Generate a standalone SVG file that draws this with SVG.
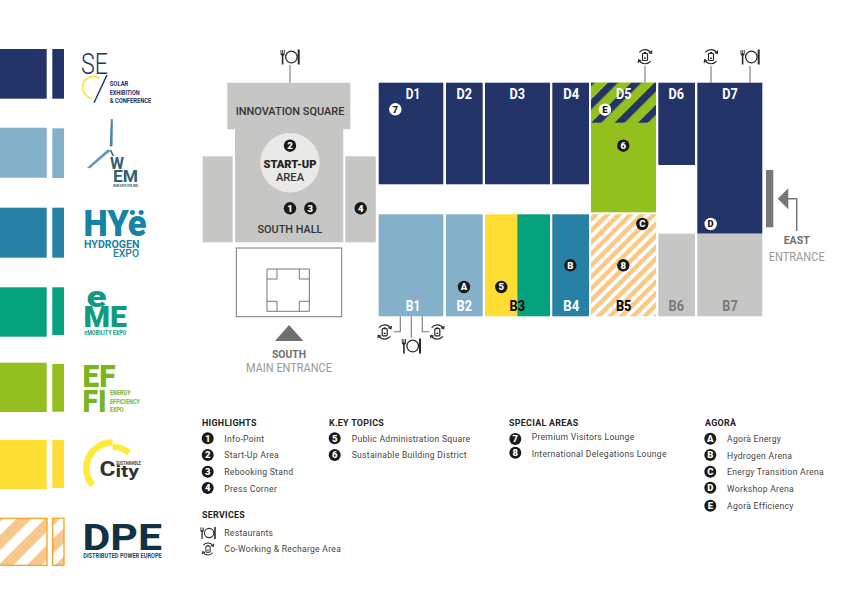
<svg xmlns="http://www.w3.org/2000/svg" width="862" height="615" viewBox="0 0 862 615">
<style>
text{font-family:"Roboto","Liberation Sans",sans-serif}
.navy{fill:#233568}.sky{fill:#85b0ca}.teal{fill:#2681a4}.em{fill:#06a27e}.lime{fill:#93c01f}.yel{fill:#ffde33}.gry{fill:#c6c6c5}
.hl{font-size:14.5px;font-weight:700;text-anchor:middle;fill:#fff}
.hk{font-size:14.5px;font-weight:700;text-anchor:middle;fill:#000}
.hg{font-size:14.5px;font-weight:700;text-anchor:middle;fill:#7a7a7a}
.mp{font-size:11.8px;font-weight:500;text-anchor:middle;fill:#333}
.mb{font-size:11.8px;font-weight:900;text-anchor:middle;fill:#222}
.eb{font-size:11.5px;font-weight:700;text-anchor:middle;fill:#6f6f6f}
.el{font-size:12px;text-anchor:middle;fill:#999}
.lh{font-size:8.9px;font-weight:700;fill:#222;letter-spacing:.3px}
.lt{font-size:8.6px;fill:#444;letter-spacing:.28px}
.bk{fill:#1a1a1a}.wh{fill:#fff}
.bt{font-size:9.5px;font-weight:900;text-anchor:middle;fill:#fff}
.bw{font-size:9.5px;font-weight:900;text-anchor:middle;fill:#1a1a1a}
.conn{fill:none;stroke:#777;stroke-width:1.1}
.icn{fill:none;stroke:#2a2a2a;stroke-width:1.2}
.lg{font-weight:700}.lx{font-weight:900}
</style>
<defs>
<pattern id="o1" width="8.2" height="8.2" patternUnits="userSpaceOnUse" patternTransform="rotate(45) translate(4.9 0)"><rect width="8.2" height="8.2" fill="#fff"/><rect width="4.6" height="8.2" fill="#f9c985"/></pattern>
<pattern id="o2" width="20" height="20" patternUnits="userSpaceOnUse" patternTransform="rotate(45) translate(18.5 0)"><rect width="20" height="20" fill="#fff"/><rect width="10.5" height="20" fill="#f7c88c"/></pattern>
<pattern id="n1" width="16.5" height="16.5" patternUnits="userSpaceOnUse" patternTransform="rotate(45) translate(9.9 0)"><rect width="16.5" height="16.5" fill="#93c01f"/><rect width="7.1" height="16.5" fill="#233568"/></pattern>
<g id="rest"><path d="M-9.5-7v3.6q0 2 1.3 2.2v8.7h1.6v-8.7q1.3-.2 1.3-2.2V-7h-.9v3.5h-.8V-7h-.8v3.5h-.8V-7z" fill="#2a2a2a"/><circle cx="1.4" cy="0" r="5.8" fill="none" stroke="#2a2a2a" stroke-width="1.3"/><path d="M8.7-7.5v15" fill="none" stroke="#2a2a2a" stroke-width="2"/></g>
<g id="cowk"><path d="M-5.6-4.4A7.2 7.2 0 0 1 6-3.8M5.6 4.4A7.2 7.2 0 0 1-6 3.8" class="icn"/><path d="M6.8-6.2L6.3-3.2 3.6-4.2M-6.8 6.2L-6.3 3.2-3.6 4.2" class="icn" stroke-width="1"/><rect x="-2.5" y="-3.4" width="5" height="7.2" rx=".9" class="icn"/><path d="M-1-4.2h2M-1 1.4h2" class="icn"/></g>
</defs>

<g id="legend-swatches">
<rect class="navy" x="0" y="49" width="46.7" height="49.7"/><rect class="navy" x="52.3" y="49" width="11.7" height="49.7"/>
<rect class="sky" x="0" y="127.7" width="46.7" height="50"/><rect class="sky" x="52.3" y="128.3" width="11.7" height="49.7"/>
<rect class="teal" x="0" y="207.7" width="46.7" height="50"/><rect class="teal" x="52.3" y="207.7" width="11.7" height="50"/>
<rect class="em" x="0" y="287.3" width="46.7" height="49.4"/><rect class="em" x="52.3" y="287.3" width="11.7" height="47.7"/>
<rect class="lime" x="0" y="362.7" width="46.7" height="49.3"/><rect class="lime" x="52.3" y="364" width="11.7" height="47.7"/>
<rect class="yel" x="0" y="440" width="46.7" height="49.3"/><rect class="yel" x="52.3" y="440" width="11.7" height="48"/>
<rect x="-2" y="518.3" width="49" height="47" fill="url(#o2)" stroke="#f5a623" stroke-width="1.3"/><rect x="52.6" y="518.3" width="11.4" height="47" fill="url(#o2)" stroke="#f5a623" stroke-width="1.3"/>
</g>

<g id="logo-sec">
<text x="81" y="74" font-size="29" fill="#233568" textLength="27" lengthAdjust="spacingAndGlyphs" style="font-weight:300">SE</text>
<path d="M99.5 78A11 11 0 1 0 92.7 98.3" fill="none" stroke="#ffde33" stroke-width="1.6"/>
<path d="M107 75L94 102.7" stroke="#233568" stroke-width="1.5"/>
<g class="lg" font-size="8" fill="#233568"><text x="109.7" y="86" textLength="18.7" lengthAdjust="spacingAndGlyphs">SOLAR</text><text x="109.7" y="94.5" textLength="30" lengthAdjust="spacingAndGlyphs">EXHIBITION</text><text x="109.7" y="102.8" textLength="41.7" lengthAdjust="spacingAndGlyphs">&amp; CONFERENCE</text></g>
</g>
<g id="logo-wem">
<path d="M111.3 119.5L112.3 119.5 112 146 110.2 146Z" fill="#4f87a0" stroke="#4f87a0"/>
<path d="M87.5 167.5L108 149.5 110 151 90 168Z" fill="#5f97b0" stroke="#5f97b0" stroke-width=".5"/>
<path d="M110.5 150L113.3 156" stroke="#33606f" stroke-width="1.5"/>
<text x="110" y="168.5" font-size="17" fill="#33606f" class="lg" textLength="14" lengthAdjust="spacingAndGlyphs">W</text>
<text x="113" y="182" font-size="16" fill="#33606f" class="lg" textLength="25" lengthAdjust="spacingAndGlyphs">EM</text>
<text x="113" y="186.5" font-size="3.2" fill="#33606f" class="lg" textLength="25" lengthAdjust="spacingAndGlyphs">WIND EXPO FOR MED</text>
</g>
<g id="logo-hye">
<text x="83.5" y="236" font-size="36" fill="#1583a3" class="lx" textLength="63" lengthAdjust="spacingAndGlyphs">HYë</text>
<text x="84" y="248" font-size="10" fill="#1583a3" class="lg" textLength="55.5" lengthAdjust="spacingAndGlyphs">HYDROGEN</text>
<text x="113" y="257" font-size="10" fill="#1583a3" style="font-weight:500" textLength="26" lengthAdjust="spacingAndGlyphs">EXPO</text>
</g>
<g id="logo-eme">
<text x="86.5" y="307" font-size="29" fill="#0f9b7c" class="lx" textLength="20" lengthAdjust="spacingAndGlyphs">e</text>
<text x="83.5" y="327" font-size="29" fill="#0f9b7c" class="lx" textLength="43.5" lengthAdjust="spacingAndGlyphs">ME</text>
<text x="84.3" y="335" font-size="7.5" fill="#0f9b7c" class="lg" textLength="42" lengthAdjust="spacingAndGlyphs">eMOBILITY EXPO</text>
</g>
<g id="logo-effi">
<text x="82.5" y="387" font-size="31.5" fill="#7ab51d" class="lx" textLength="33" lengthAdjust="spacingAndGlyphs">EF</text>
<text x="82.5" y="412" font-size="31.5" fill="#7ab51d" class="lx" textLength="24" lengthAdjust="spacingAndGlyphs">FI</text>
<g font-size="8" fill="#7ab51d" class="lg"><text x="110" y="395.2" textLength="20.5" lengthAdjust="spacingAndGlyphs">ENERGY</text><text x="110" y="403.5" textLength="30" lengthAdjust="spacingAndGlyphs">EFFICIENCY</text><text x="110" y="411.8" textLength="13.5" lengthAdjust="spacingAndGlyphs">EXPO</text></g>
</g>
<g id="logo-city">
<path d="M92.6 485A25.7 25.7 0 0 1 112.5 442.5" fill="none" stroke="#ffea3a" stroke-width="6.5"/>
<path d="M112.5 447A22 22 0 0 1 129 453" fill="none" stroke="#ffea3a" stroke-width="6"/>
<text x="116" y="465" font-size="4.6" fill="#444" class="lg" textLength="25" lengthAdjust="spacingAndGlyphs">SUSTAINABLE</text>
<text transform="translate(99.5 476) scale(1.25 1)" font-size="19.5" fill="#333" class="lg">C<tspan font-size="17" dy="1">ity</tspan></text>
</g>
<g id="logo-dpe">
<text x="82.5" y="549.5" font-size="36" fill="#0f3244" class="lg" textLength="79.5" lengthAdjust="spacingAndGlyphs">DPE</text>
<text x="83.3" y="558" font-size="6.6" fill="#2f4858" class="lg" textLength="78.5" lengthAdjust="spacingAndGlyphs">DISTRIBUTED POWER EUROPE</text>
</g>

<g id="connectors">
<path class="conn" d="M290 65V82.7M645 66V82.7M711 66V82.7M750 66V82.7M400.3 316.3V331.7H393.7M411.3 316.3V337.7M422.3 316.3V331.7H429.3"/>
</g>
<g id="icons">
<use href="#rest" x="290" y="57"/><use href="#cowk" x="645" y="56.7"/><use href="#cowk" x="711" y="56.7"/><use href="#rest" x="750" y="57"/>
<use href="#cowk" x="384.7" y="332"/><use href="#cowk" x="437.3" y="332"/><use href="#rest" x="411.3" y="346"/>
</g>

<g id="south-hall">
<path class="gry" d="M227.3 82.7H350.3V129.3H343.3V242.3H235V129.3H227.3Z"/>
<rect class="gry" x="202.7" y="156.3" width="30" height="86"/>
<rect class="gry" x="345.3" y="156.3" width="30.4" height="86"/>
<circle cx="290" cy="162.7" r="29.7" fill="#e9e9e8"/>
<text class="mp" x="290" y="115.3" textLength="108.7" lengthAdjust="spacingAndGlyphs">INNOVATION SQUARE</text>
<text class="mb" x="290" y="168.2" textLength="53" lengthAdjust="spacingAndGlyphs">START-UP</text>
<text class="mp" x="290" y="181.3" textLength="28" lengthAdjust="spacingAndGlyphs">AREA</text>
<text class="mp" x="290" y="233.3" textLength="65" lengthAdjust="spacingAndGlyphs">SOUTH HALL</text>
</g>
<g id="south-entrance">
<rect x="236.3" y="248" width="105.4" height="68.7" fill="#fff" stroke="#777" stroke-width="1"/>
<path d="M267 269H309.3V311.3H267ZM267 279H277V269M299.3 269V279H309.3M267 301.3H277V311.3M299.3 311.3V301.3H309.3" fill="none" stroke="#777" stroke-width="1"/>
<path d="M289 325L303.3 341H275Z" fill="#6f6f6f"/>
<text class="eb" x="289" y="357.5" textLength="34" lengthAdjust="spacingAndGlyphs">SOUTH</text>
<text class="el" x="289" y="372" textLength="86" lengthAdjust="spacingAndGlyphs">MAIN ENTRANCE</text>
</g>
<g id="east-entrance">
<rect x="766" y="170" width="7.3" height="57.3" fill="#777"/>
<path d="M777.7 198.7L788.3 188.3V209.3Z" fill="#777"/>
<path d="M788 198.7H796.7V231" fill="none" stroke="#777" stroke-width="1.5"/>
<text class="eb" x="796.7" y="244" textLength="26" lengthAdjust="spacingAndGlyphs">EAST</text>
<text class="el" x="796.7" y="260.5" textLength="56" lengthAdjust="spacingAndGlyphs">ENTRANCE</text>
</g>

<g id="D1"><rect class="navy" x="378.7" y="82.7" width="64.6" height="101.6"/><text class="hl" x="413" y="98.5" textLength="14.5" lengthAdjust="spacingAndGlyphs">D1</text></g>
<g id="D2"><rect class="navy" x="446" y="82.7" width="36.7" height="101.6"/><text class="hl" x="464.3" y="98.5" textLength="15.5" lengthAdjust="spacingAndGlyphs">D2</text></g>
<g id="D3"><rect class="navy" x="485" y="82.7" width="65" height="101.6"/><text class="hl" x="517.3" y="98.5" textLength="15.5" lengthAdjust="spacingAndGlyphs">D3</text></g>
<g id="D4"><rect class="navy" x="552.3" y="82.7" width="36.7" height="101.6"/><text class="hl" x="571.3" y="98.5" textLength="16" lengthAdjust="spacingAndGlyphs">D4</text></g>
<g id="D5"><rect class="lime" x="591" y="82.7" width="65" height="129.6"/><rect x="591" y="82.7" width="65" height="40" fill="url(#n1)"/><text class="hl" x="623.7" y="98.5" textLength="15.5" lengthAdjust="spacingAndGlyphs">D5</text></g>
<g id="D6"><rect class="navy" x="658.3" y="82.7" width="36.7" height="82.3"/><text class="hl" x="676.3" y="98.5" textLength="15.5" lengthAdjust="spacingAndGlyphs">D6</text></g>
<g id="D7"><rect class="navy" x="697.3" y="82.7" width="65" height="151"/><text class="hl" x="730" y="98.5" textLength="15.5" lengthAdjust="spacingAndGlyphs">D7</text></g>
<g id="B1"><rect class="sky" x="378.7" y="214.3" width="64.6" height="102"/><text class="hl" x="413" y="311.3" textLength="14.5" lengthAdjust="spacingAndGlyphs">B1</text></g>
<g id="B2"><rect class="sky" x="446" y="214.3" width="36.7" height="102"/><text class="hl" x="464.3" y="311.3" textLength="15.5" lengthAdjust="spacingAndGlyphs">B2</text></g>
<g id="B3"><rect class="yel" x="485" y="214.3" width="32.3" height="102"/><rect class="em" x="517.3" y="214.3" width="32.7" height="102"/><text class="hk" x="517.3" y="311.3" textLength="15.5" lengthAdjust="spacingAndGlyphs">B3</text></g>
<g id="B4"><rect class="teal" x="552.3" y="214.3" width="36.7" height="102"/><text class="hl" x="571.3" y="311.3" textLength="16" lengthAdjust="spacingAndGlyphs">B4</text></g>
<g id="B5"><rect x="591" y="214.3" width="65" height="102" fill="url(#o1)"/><text class="hk" x="623.7" y="311.3" textLength="15.5" lengthAdjust="spacingAndGlyphs">B5</text></g>
<g id="B6"><rect class="gry" x="658.3" y="233.7" width="36.7" height="82.6"/><text class="hg" x="676.3" y="311.3" textLength="15.5" lengthAdjust="spacingAndGlyphs">B6</text></g>
<g id="B7"><rect class="gry" x="697.3" y="233.7" width="65" height="82.6"/><text class="hg" x="730" y="311.3" textLength="15.5" lengthAdjust="spacingAndGlyphs">B7</text></g>

<g id="badges">
<circle class="bk" cx="290" cy="145.7" r="6.2"/><text class="bt" x="290" y="149">2</text>
<circle class="bk" cx="290" cy="208.3" r="6.2"/><text class="bt" x="290" y="211.6">1</text>
<circle class="bk" cx="310.3" cy="208.3" r="6.2"/><text class="bt" x="310.3" y="211.6">3</text>
<circle class="bk" cx="360.7" cy="208.3" r="6.2"/><text class="bt" x="360.7" y="211.6">4</text>
<circle class="wh" cx="395.3" cy="109.3" r="6.2"/><text class="bw" x="395.3" y="112.6">7</text>
<circle class="bk" cx="464" cy="287" r="6.2"/><text class="bt" x="464" y="290.3">A</text>
<circle class="bk" cx="501.3" cy="287" r="6.2"/><text class="bt" x="501.3" y="290.3">5</text>
<circle class="bk" cx="570.3" cy="265.3" r="6.2"/><text class="bt" x="570.3" y="268.6">B</text>
<circle class="wh" cx="605" cy="109.7" r="6.2"/><text class="bw" x="605" y="113">E</text>
<circle class="bk" cx="623.3" cy="145.7" r="6.2"/><text class="bt" x="623.3" y="149">6</text>
<circle class="bk" cx="642.3" cy="224" r="6.2"/><text class="bt" x="642.3" y="227.3">C</text>
<circle class="bk" cx="623.3" cy="265.3" r="6.2"/><text class="bt" x="623.3" y="268.6">8</text>
<circle class="wh" cx="710.7" cy="224" r="6.2"/><text class="bw" x="710.7" y="227.3">D</text>
</g>

<g id="legend-highlights">
<text class="lh" x="202" y="426">HIGHLIGHTS</text>
<circle class="bk" cx="207.7" cy="438.3" r="6"/><text class="bt" x="207.7" y="441.6">1</text><text class="lt" x="224.3" y="441.5">Info-Point</text>
<circle class="bk" cx="207.7" cy="455" r="6"/><text class="bt" x="207.7" y="458.3">2</text><text class="lt" x="224.3" y="458.2">Start-Up Area</text>
<circle class="bk" cx="207.7" cy="471.7" r="6"/><text class="bt" x="207.7" y="475">3</text><text class="lt" x="224.3" y="474.9">Rebooking Stand</text>
<circle class="bk" cx="207.7" cy="488" r="6"/><text class="bt" x="207.7" y="491.3">4</text><text class="lt" x="224.3" y="491.7">Press Corner</text>
</g>
<g id="legend-topics">
<text class="lh" x="329" y="426">K.EY TOPICS</text>
<circle class="bk" cx="334.7" cy="438.3" r="6"/><text class="bt" x="334.7" y="441.6">5</text><text class="lt" x="351.7" y="441.5">Public Administration Square</text>
<circle class="bk" cx="334.7" cy="455" r="6"/><text class="bt" x="334.7" y="458.3">6</text><text class="lt" x="351.7" y="458.2">Sustainable Building District</text>
</g>
<g id="legend-services">
<text class="lh" x="202" y="517.6">SERVICES</text>
<use href="#rest" transform="translate(208 533) scale(.8)"/><text class="lt" x="224.3" y="536.2">Restaurants</text>
<use href="#cowk" transform="translate(208 549) scale(.85)"/><text class="lt" x="224.3" y="552.3">Co-Working &amp; Recharge Area</text>
</g>
<g id="legend-special">
<text class="lh" x="509" y="426">SPECIAL AREAS</text>
<circle class="bk" cx="515.3" cy="439" r="6"/><text class="bt" x="515.3" y="442.3">7</text><text class="lt" x="531.7" y="440">Premium Visitors Lounge</text>
<circle class="bk" cx="515.3" cy="452.7" r="6"/><text class="bt" x="515.3" y="456">8</text><text class="lt" x="531.7" y="457">International Delegations Lounge</text>
</g>
<g id="legend-agora">
<text class="lh" x="705" y="426">AGORÀ</text>
<circle class="bk" cx="710.3" cy="438.7" r="6"/><text class="bt" x="710.3" y="442">A</text><text class="lt" x="727" y="441.7">Agorà Energy</text>
<circle class="bk" cx="710.3" cy="455" r="6"/><text class="bt" x="710.3" y="458.3">B</text><text class="lt" x="727" y="458.5">Hydrogen Arena</text>
<circle class="bk" cx="710.3" cy="471.7" r="6"/><text class="bt" x="710.3" y="475">C</text><text class="lt" x="727" y="475.2">Energy Transition Arena</text>
<circle class="bk" cx="710.3" cy="487.7" r="6"/><text class="bt" x="710.3" y="491">D</text><text class="lt" x="727" y="491.8">Workshop Arena</text>
<circle class="bk" cx="710.3" cy="505.7" r="6"/><text class="bt" x="710.3" y="509">E</text><text class="lt" x="727" y="509.2">Agorà Efficiency</text>
</g>
</svg>
